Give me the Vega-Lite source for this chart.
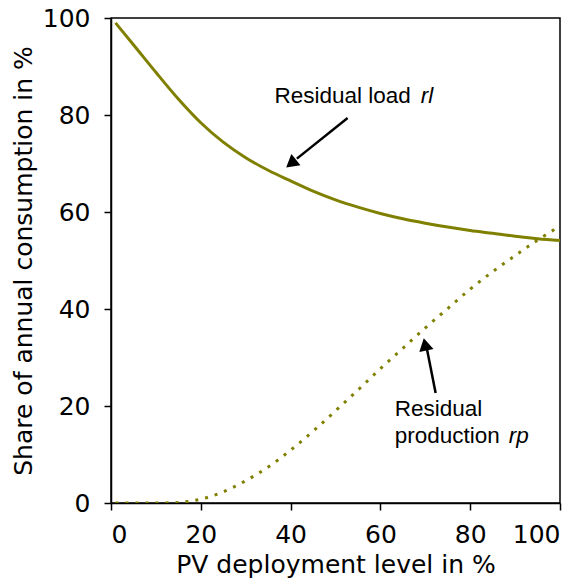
{
  "$schema": "https://vega.github.io/schema/vega-lite/v6.json",
  "width": 449,
  "height": 485,
  "autosize": "none",
  "padding": {"left": 111, "top": 18, "right": 22, "bottom": 75},
  "config": {
    "view": {"stroke": "#000000", "strokeWidth": 1.5},
    "axis": {
      "grid": false,
      "domainColor": "#000000",
      "domainWidth": 1.5,
      "tickColor": "#000000",
      "tickWidth": 1.5,
      "tickSize": 7,
      "labelFont": "DejaVu Sans",
      "labelFontSize": 25,
      "labelColor": "#000000",
      "titleFont": "DejaVu Sans",
      "titleFontSize": 25,
      "titleFontWeight": "normal",
      "titleColor": "#000000"
    }
  },
  "layer": [
    {
      "data": {"values": [
        {"pv": 1, "share": 99}, {"pv": 5, "share": 94.5}, {"pv": 10, "share": 88.8},
        {"pv": 15, "share": 83.3}, {"pv": 20, "share": 78.4}, {"pv": 25, "share": 74.4},
        {"pv": 30, "share": 71.2}, {"pv": 35, "share": 68.6}, {"pv": 40, "share": 66.4},
        {"pv": 45, "share": 64.3}, {"pv": 50, "share": 62.5}, {"pv": 55, "share": 61.0},
        {"pv": 60, "share": 59.7}, {"pv": 65, "share": 58.6}, {"pv": 70, "share": 57.7},
        {"pv": 75, "share": 56.9}, {"pv": 80, "share": 56.2}, {"pv": 85, "share": 55.6},
        {"pv": 90, "share": 55.0}, {"pv": 95, "share": 54.5}, {"pv": 100, "share": 54.1}
      ]},
      "mark": {"type": "line", "color": "#808000", "strokeWidth": 3, "interpolate": "monotone", "clip": true},
      "encoding": {
        "x": {"field": "pv", "type": "quantitative",
              "scale": {"domain": [0, 100], "nice": false},
              "axis": {"values": [0, 20, 40, 60, 80, 100], "title": "PV deployment level in %", "labelPadding": 12, "titlePadding": 5}},
        "y": {"field": "share", "type": "quantitative",
              "scale": {"domain": [0, 100], "nice": false},
              "axis": {"values": [0, 20, 40, 60, 80, 100], "title": "Share of annual consumption in %", "labelPadding": 14, "titlePadding": 6}}
      }
    },
    {
      "data": {"values": [
        {"pv": 1, "share": 0}, {"pv": 5, "share": 0}, {"pv": 10, "share": 0},
        {"pv": 15, "share": 0.1}, {"pv": 17, "share": 0.3}, {"pv": 20, "share": 0.8},
        {"pv": 25, "share": 2.3}, {"pv": 30, "share": 4.6}, {"pv": 35, "share": 7.4},
        {"pv": 40, "share": 10.9}, {"pv": 45, "share": 14.8}, {"pv": 50, "share": 19},
        {"pv": 55, "share": 23.3}, {"pv": 60, "share": 27.7}, {"pv": 65, "share": 31.9},
        {"pv": 70, "share": 36.1}, {"pv": 75, "share": 40.1}, {"pv": 80, "share": 44.1},
        {"pv": 85, "share": 47.7}, {"pv": 90, "share": 51.0}, {"pv": 95, "share": 54.2},
        {"pv": 100, "share": 57.1}
      ]},
      "mark": {"type": "line", "color": "#808000", "strokeWidth": 3, "strokeDash": [3, 7], "strokeCap": "butt", "interpolate": "monotone", "clip": true},
      "encoding": {
        "x": {"field": "pv", "type": "quantitative"},
        "y": {"field": "share", "type": "quantitative"}
      }
    },
    {
      "data": {"values": [
        {"x1": 52.7, "y1": 79.4, "x2": 41.4, "y2": 71.0},
        {"x1": 72.3, "y1": 22.7, "x2": 70.4, "y2": 31.6}
      ]},
      "mark": {"type": "rule", "color": "#000000", "strokeWidth": 2.5},
      "encoding": {
        "x": {"field": "x1", "type": "quantitative"},
        "y": {"field": "y1", "type": "quantitative"},
        "x2": {"field": "x2"},
        "y2": {"field": "y2"}
      }
    },
    {
      "data": {"values": [{"x": 40.1, "y": 70.0}]},
      "mark": {"type": "point", "shape": "triangle-up", "filled": true, "color": "#000000", "opacity": 1, "size": 210, "angle": 231},
      "encoding": {
        "x": {"field": "x", "type": "quantitative"},
        "y": {"field": "y", "type": "quantitative"}
      }
    },
    {
      "data": {"values": [{"x": 69.95, "y": 32.7}]},
      "mark": {"type": "point", "shape": "triangle-up", "filled": true, "color": "#000000", "opacity": 1, "size": 210, "angle": 348},
      "encoding": {
        "x": {"field": "x", "type": "quantitative"},
        "y": {"field": "y", "type": "quantitative"}
      }
    },
    {
      "data": {"values": [
        {"x": 36.4, "y": 82.5, "label": "Residual load"},
        {"x": 63.2, "y": 18.0, "label": "Residual"},
        {"x": 63.2, "y": 12.4, "label": "production"}
      ]},
      "mark": {"type": "text", "align": "left", "baseline": "alphabetic", "font": "Liberation Sans", "fontSize": 22.5, "color": "#000000"},
      "encoding": {
        "x": {"field": "x", "type": "quantitative"},
        "y": {"field": "y", "type": "quantitative"},
        "text": {"field": "label"}
      }
    },
    {
      "data": {"values": [
        {"x": 69.0, "y": 82.5, "label": "rl"},
        {"x": 88.6, "y": 12.4, "label": "rp"}
      ]},
      "mark": {"type": "text", "align": "left", "baseline": "alphabetic", "font": "Liberation Sans", "fontSize": 22.5, "fontStyle": "italic", "color": "#000000"},
      "encoding": {
        "x": {"field": "x", "type": "quantitative"},
        "y": {"field": "y", "type": "quantitative"},
        "text": {"field": "label"}
      }
    }
  ]
}
